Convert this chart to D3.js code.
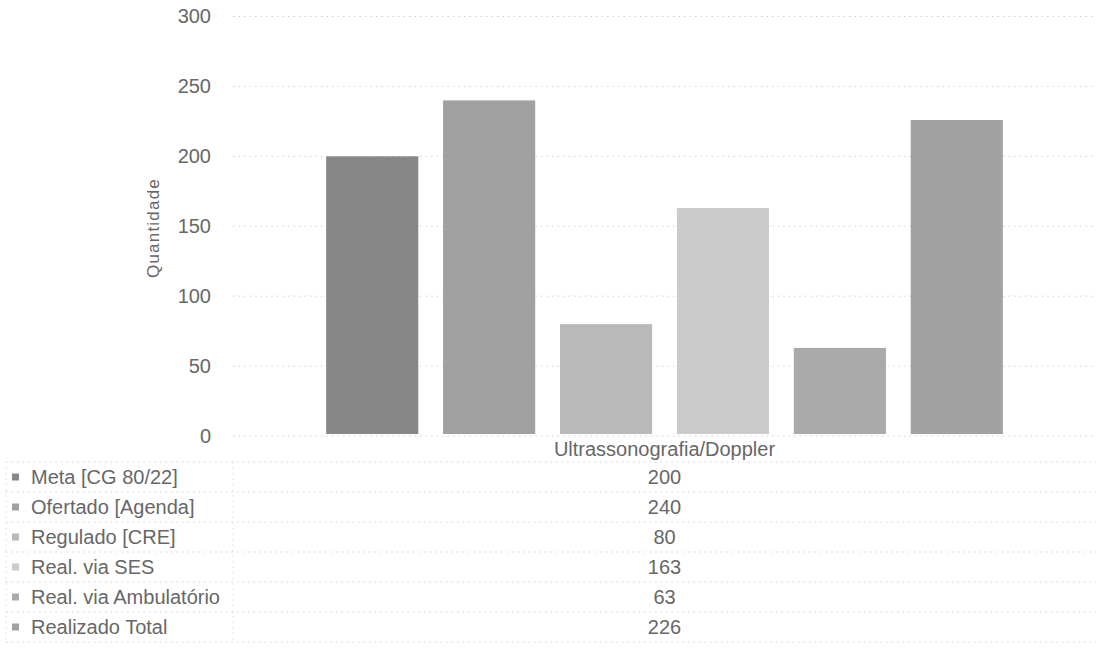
<!DOCTYPE html>
<html>
<head>
<meta charset="utf-8">
<script src="https://cdn.jsdelivr.net/npm/d3@7"></script>
<style>
  body { margin: 0; background: #fff; }
  text { font-family: "Liberation Sans", Arial, sans-serif; fill: #676767; }
</style>
</head>
<body>
<div id="chart"></div>
<script>
var svgWidth = 1096;
var svgHeight = 652;

// data
var categories = ["Ultrassonografia/Doppler"];
var seriesNames = ["Meta [CG 80/22]", "Ofertado [Agenda]", "Regulado [CRE]", "Real. via SES", "Real. via Ambulatório", "Realizado Total"];
var seriesValues = [200, 240, 80, 163, 63, 226];
var yTicks = [0, 50, 100, 150, 200, 250, 300];

var colors = ["#878787", "#a1a1a1", "#b9b9b9", "#cbcbcb", "#aaaaaa", "#a2a2a2"];

var plot = { left: 233, right: 1096, top: 16.5, bottom: 436 };
var table = { left: 6, headerBottom: 462, bottom: 642 };

var svg = d3.select("#chart")
  .append("svg")
  .attr("width", svgWidth)
  .attr("height", svgHeight);

var yScale = d3.scaleLinear()
  .domain([0, 300])
  .range([plot.bottom, plot.top]);

var xCat = d3.scaleBand()
  .domain(categories)
  .range([plot.left, plot.right])
  .paddingInner(0.121)
  .paddingOuter(0.121);

var xSeries = d3.scaleBand()
  .domain(seriesNames)
  .range([0, xCat.bandwidth()])
  .paddingInner(0.212)
  .paddingOuter(0);

// gridlines
svg.append("g")
  .selectAll("line")
  .data(yTicks)
  .enter()
  .append("line")
  .attr("x1", plot.left)
  .attr("x2", plot.right)
  .attr("y1", d => yScale(d))
  .attr("y2", d => yScale(d))
  .attr("stroke", "#d2d2d2")
  .attr("stroke-dasharray", "1.5,4");

// y axis labels
var yAxis = d3.axisLeft(yScale).tickValues(yTicks).tickSize(0).tickPadding(0);
var yAxisG = svg.append("g")
  .attr("transform", "translate(211,0)")
  .call(yAxis);
yAxisG.select(".domain").remove();
yAxisG.selectAll("text")
  .style("font-size", "20px")
  .style("font-family", "'Liberation Sans', Arial, sans-serif")
  .attr("fill", "#676767");

svg.append("text")
  .attr("transform", "translate(159,228) rotate(-90)")
  .attr("text-anchor", "middle")
  .style("font-size", "17px")
  .style("letter-spacing", "1.2px")
  .text("Quantidade");

// bars
var data = seriesNames.map((s, i) => ({ name: s, value: seriesValues[i], color: colors[i] }));

svg.append("g")
  .selectAll("rect")
  .data(data)
  .enter()
  .append("rect")
  .attr("x", d => xCat(categories[0]) + xSeries(d.name))
  .attr("y", d => yScale(d.value))
  .attr("width", xSeries.bandwidth())
  .attr("height", d => yScale(0) - yScale(d.value) - 2)
  .attr("fill", d => d.color);

// data table
var rowScale = d3.scaleBand()
  .domain(seriesNames)
  .range([table.headerBottom, table.bottom]);

var colCenter = xCat(categories[0]) + xCat.bandwidth() / 2;

svg.append("text")
  .attr("x", colCenter)
  .attr("y", (plot.bottom + table.headerBottom) / 2)
  .attr("dy", "0.36em")
  .attr("text-anchor", "middle")
  .style("font-size", "20px")
  .text(categories[0]);

var lineYs = seriesNames.map(s => rowScale(s)).concat([table.bottom]);
svg.append("g")
  .selectAll("line")
  .data(lineYs)
  .enter()
  .append("line")
  .attr("x1", table.left)
  .attr("x2", plot.right)
  .attr("y1", d => d)
  .attr("y2", d => d)
  .attr("stroke", "#d2d2d2")
  .attr("stroke-dasharray", "1.5,4");

// vertical table borders
[table.left, plot.left].forEach(function (x) {
  svg.append("line")
    .attr("x1", x).attr("x2", x)
    .attr("y1", table.headerBottom).attr("y2", table.bottom)
    .attr("stroke", "#dddddd")
    .attr("stroke-dasharray", "1.5,4");
});

var rows = svg.append("g")
  .selectAll("g")
  .data(data)
  .enter()
  .append("g")
  .attr("transform", d => `translate(0, ${rowScale(d.name) + rowScale.bandwidth() / 2})`);

rows.append("rect")
  .attr("x", 12)
  .attr("y", -3.5)
  .attr("width", 7)
  .attr("height", 7)
  .attr("fill", d => d.color);

rows.append("text")
  .attr("x", 31)
  .attr("dy", "0.36em")
  .style("font-size", "20px")
  .text(d => d.name);

rows.append("text")
  .attr("x", colCenter)
  .attr("dy", "0.36em")
  .attr("text-anchor", "middle")
  .style("font-size", "20px")
  .text(d => d.value);
</script>
</body>
</html>
